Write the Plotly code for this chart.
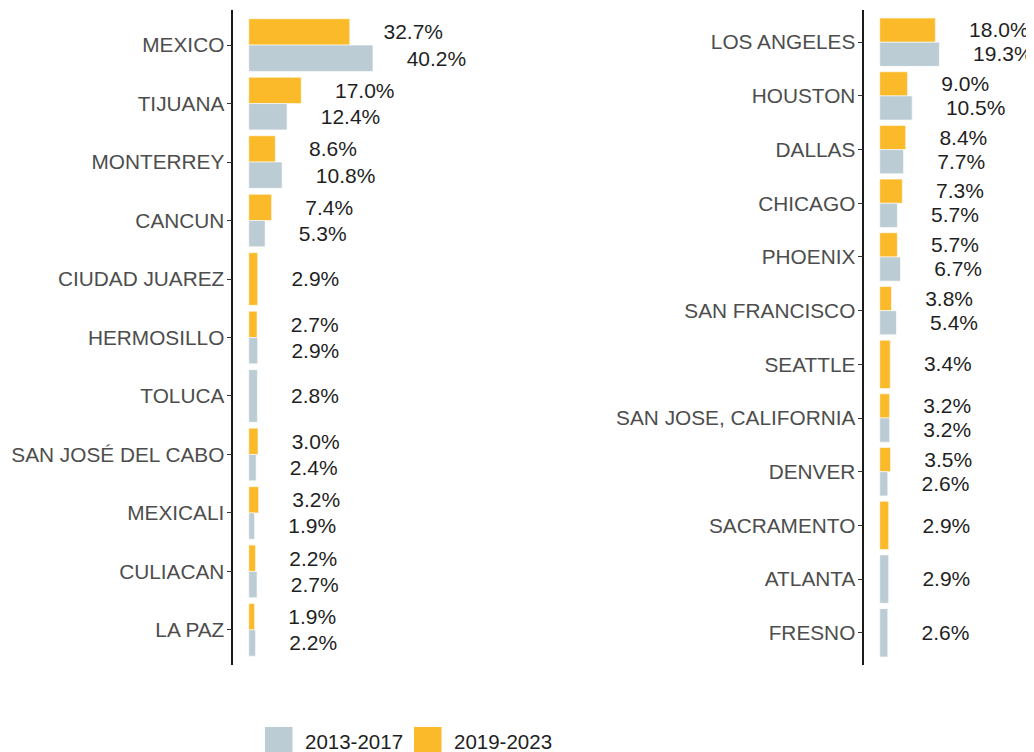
import plotly.graph_objects as go

# The page places the figure 8 px from the top-left corner of the window,
# so the figure is made 8 px smaller and every pixel position is shifted by 8.
PAGE_OFF = 8
W, H = 1034 - PAGE_OFF, 752 - PAGE_OFF

# ---------------- data ----------------
mx_cities = ["MEXICO", "TIJUANA", "MONTERREY", "CANCUN", "CIUDAD JUAREZ", "HERMOSILLO",
             "TOLUCA", "SAN JOSÉ DEL CABO", "MEXICALI", "CULIACAN", "LA PAZ"]
mx_2019_2023 = [32.7, 17.0, 8.6, 7.4, 2.9, 2.7, None, 3.0, 3.2, 2.2, 1.9]
mx_2013_2017 = [40.2, 12.4, 10.8, 5.3, None, 2.9, 2.8, 2.4, 1.9, 2.7, 2.2]

us_cities = ["LOS ANGELES", "HOUSTON", "DALLAS", "CHICAGO", "PHOENIX", "SAN FRANCISCO",
             "SEATTLE", "SAN JOSE, CALIFORNIA", "DENVER", "SACRAMENTO", "ATLANTA", "FRESNO"]
us_2019_2023 = [18.0, 9.0, 8.4, 7.3, 5.7, 3.8, 3.4, 3.2, 3.5, 2.9, None, None]
us_2013_2017 = [19.3, 10.5, 7.7, 5.7, 6.7, 5.4, None, 3.2, 2.6, None, 2.9, 2.6]

series_names = ["2013-2017", "2019-2023"]

# ---------------- style ----------------
C_OLD = "#BCCCD4"
C_NEW = "#FABA2A"
FONT = "Liberation Sans, Arial, sans-serif"
TICK_COLOR = "#4D4D4D"
LABEL_COLOR = "#1F1F1F"
GROUP_W = 0.9
LABEL_PAD = 10.9     # data units between bar end and label start
LABEL_NUDGE_Y = 0.035  # small downward nudge of value labels (category units)
PX_PER_UNIT = 3.09

fig = go.Figure()


def px_x(p):
    return (p - PAGE_OFF) / W


def px_y(p):
    return 1 - (p - PAGE_OFF) / H


def add_panel(cities, new_vals, old_vals, xa, ya):
    n = len(cities)
    idx = list(range(n))
    new_off, new_w, old_off, old_w = [], [], [], []
    lab_x, lab_y, lab_t = [], [], []
    for i in idx:
        a, b = new_vals[i], old_vals[i]
        if a is not None and b is not None:
            new_off.append(-GROUP_W / 2); new_w.append(GROUP_W / 2)
            old_off.append(0.0); old_w.append(GROUP_W / 2)
            lab_x += [a + LABEL_PAD, b + LABEL_PAD]
            lab_y += [i - GROUP_W / 4 + LABEL_NUDGE_Y, i + GROUP_W / 4 + LABEL_NUDGE_Y]
            lab_t += [f"{a:.1f}%", f"{b:.1f}%"]
        else:
            new_off.append(-GROUP_W / 2); new_w.append(GROUP_W)
            old_off.append(-GROUP_W / 2); old_w.append(GROUP_W)
            v = a if a is not None else b
            lab_x.append(v + LABEL_PAD)
            lab_y.append(i + LABEL_NUDGE_Y)
            lab_t.append(f"{v:.1f}%")
    fig.add_trace(go.Bar(
        x=new_vals, y=idx, orientation="h", offset=new_off, width=new_w,
        marker=dict(color=C_NEW, line=dict(color="white", width=0.6)),
        name=series_names[1], showlegend=False, xaxis=xa, yaxis=ya,
        hoverinfo="x+y"))
    fig.add_trace(go.Bar(
        x=old_vals, y=idx, orientation="h", offset=old_off, width=old_w,
        marker=dict(color=C_OLD, line=dict(color="white", width=0.6)),
        name=series_names[0], showlegend=False, xaxis=xa, yaxis=ya,
        hoverinfo="x+y"))
    fig.add_trace(go.Scatter(
        x=lab_x, y=lab_y, text=lab_t, mode="text", textposition="middle right",
        textfont=dict(family=FONT, size=21, color=LABEL_COLOR),
        cliponaxis=False, showlegend=False, hoverinfo="skip", xaxis=xa, yaxis=ya))
    return n


n_mx = add_panel(mx_cities, mx_2019_2023, mx_2013_2017, "x", "y")
n_us = add_panel(us_cities, us_2019_2023, us_2013_2017, "x2", "y2")

y_dom = [px_y(665), px_y(10)]
left_x0, left_x1 = 233.3, 560
right_x0, right_x1 = 864.3, 1034

yaxis_common = dict(
    showline=True, linecolor="#1A1A1A", linewidth=1.6,
    ticks="outside", ticklen=5, tickwidth=1.4, tickcolor="#333333",
    showgrid=False, zeroline=False, ticklabelstandoff=-2,
    tickfont=dict(family=FONT, size=20.8, color=TICK_COLOR),
    domain=y_dom,
)
xaxis_common = dict(visible=False, showgrid=False, zeroline=False)

fig.update_layout(
    width=W, height=H,
    margin=dict(l=0, r=0, t=0, b=0),
    paper_bgcolor="white", plot_bgcolor="white",
    barmode="overlay",
    showlegend=False,
    xaxis=dict(**xaxis_common, domain=[px_x(left_x0), px_x(left_x1)],
               range=[-5, -5 + (left_x1 - left_x0) / PX_PER_UNIT], anchor="y"),
    xaxis2=dict(**xaxis_common, domain=[px_x(right_x0), px_x(right_x1)],
                range=[-5, -5 + (right_x1 - right_x0) / PX_PER_UNIT], anchor="y2"),
    yaxis=dict(**yaxis_common, tickvals=list(range(n_mx)), ticktext=mx_cities,
               range=[n_mx - 1 + 0.6, -0.6], anchor="x"),
    yaxis2=dict(**yaxis_common, tickvals=list(range(n_us)), ticktext=us_cities,
                range=[n_us - 1 + 0.6, -0.6], anchor="x2"),
)

# ---------------- legend (bottom) ----------------
legend_items = [(series_names[0], C_OLD, 265), (series_names[1], C_NEW, 414)]
for name, col, x0 in legend_items:
    fig.add_shape(type="rect", xref="paper", yref="paper",
                  x0=px_x(x0), x1=px_x(x0 + 27.5), y0=px_y(752), y1=px_y(727),
                  fillcolor=col, line=dict(width=0))
    fig.add_annotation(xref="paper", yref="paper", x=px_x(x0 + 38), y=px_y(741),
                       text=name, showarrow=False, xanchor="left", yanchor="middle",
                       font=dict(family=FONT, size=20.5, color=LABEL_COLOR))

fig.write_html("out.html")
